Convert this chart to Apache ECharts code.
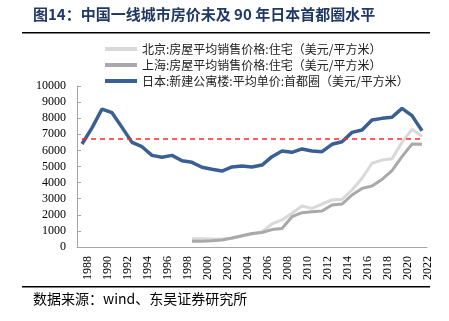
<!DOCTYPE html>
<html>
<head>
<meta charset="utf-8">
<script src="https://cdn.jsdelivr.net/npm/echarts@6/dist/echarts.min.js"></script>
<style>
  html, body { margin: 0; padding: 0; background: #fff; }
  #chart { width: 449px; height: 321px; }
</style>
</head>
<body>
<div id="chart"></div>
<script>
// Years on the category axis
const years = [];
for (let y = 1988; y <= 2022; y++) years.push(String(y));

// 北京 / 上海 住宅均价（美元/平方米），1999 年起
const beijing = [null, null, null, null, null, null, null, null, null, null, null,
  510, 520, 500, 480, 540, 680, 800, 950, 1430, 1680, 2100, 2550, 2400, 2670,
  2920, 2960, 3540, 4270, 5200, 5400, 5480, 6500, 7310, 6870];
const shanghai = [null, null, null, null, null, null, null, null, null, null, null,
  350, 355, 390, 430, 560, 700, 840, 900, 1080, 1150, 1880, 2130, 2190, 2240,
  2610, 2670, 3230, 3640, 3790, 4200, 4740, 5610, 6400, 6380];
// 日本首都圈新建公寓均价（美元/平方米）
const tokyo = [6400, 7400, 8570, 8340, 7430, 6500, 6230, 5690, 5570, 5690,
  5360, 5260, 4950, 4830, 4720, 4970, 5030, 4970, 5090, 5610, 5960, 5880,
  6090, 5960, 5920, 6380, 6540, 7120, 7270, 7890, 7990, 8060, 8610, 8160, 7220];
// 红色虚线参考水平
const refLevel = 6750;

const names = [
  '北京:房屋平均销售价格:住宅（美元/平方米）',
  '上海:房屋平均销售价格:住宅（美元/平方米）',
  '日本:新建公寓楼:平均单价:首都圈（美元/平方米）'
];
const colors = ['#d9d9d9', '#a9a9a9', '#3a5f92'];

const cjk = '"Noto Sans CJK SC", sans-serif';
const serif = '"Liberation Serif", "DejaVu Serif", serif';

const chart = echarts.init(document.getElementById('chart'), null, { renderer: 'canvas' });
chart.setOption({
  animation: false,
  backgroundColor: '#fff',
  grid: { left: 77, right: 22, top: 86, bottom: 74 },
  legend: {
    orient: 'vertical',
    left: 100,
    top: 38,
    icon: 'rect',
    itemWidth: 32,
    itemHeight: 4,
    itemGap: 4,
    textStyle: { fontFamily: cjk, fontSize: 12, color: '#222', lineHeight: 12, height: 12 },
    data: names
  },
  xAxis: {
    type: 'category',
    data: years,
    boundaryGap: true,
    axisLine: { lineStyle: { color: '#a6a6a6', width: 1 } },
    axisTick: { inside: true, length: 4, interval: 1, lineStyle: { color: '#a6a6a6' } },
    axisLabel: {
      interval: 1,
      rotate: 90,
      margin: 9,
      verticalAlign: 'top',
      fontFamily: serif,
      fontSize: 12,
      color: '#000'
    }
  },
  yAxis: {
    type: 'value',
    min: 0,
    max: 10000,
    interval: 1000,
    splitLine: { show: false },
    axisLine: { show: true, lineStyle: { color: '#a6a6a6', width: 1 } },
    axisTick: { show: true, inside: true, length: 4, lineStyle: { color: '#a6a6a6' } },
    axisLabel: {
      margin: 11, fontFamily: serif, fontSize: 12, color: '#000',
      formatter: (v) => String(v)
    }
  },
  series: [
    {
      name: names[0], type: 'line', data: beijing, symbol: 'none',
      lineStyle: { color: colors[0], width: 3 }, itemStyle: { color: colors[0] }, z: 2
    },
    {
      name: names[1], type: 'line', data: shanghai, symbol: 'none',
      lineStyle: { color: colors[1], width: 3 }, itemStyle: { color: colors[1] }, z: 3
    },
    {
      name: names[2], type: 'line', data: tokyo, symbol: 'none',
      lineStyle: { color: colors[2], width: 3.5 }, itemStyle: { color: colors[2] }, z: 4,
      markLine: {
        silent: true,
        symbol: 'none',
        label: { show: false },
        lineStyle: { color: '#ff2a2a', type: [5, 4], width: 1.5 },
        data: [[{ coord: [years[0], refLevel] }, { coord: [years[years.length - 1], refLevel] }]]
      }
    }
  ],
  graphic: [
    {
      type: 'text', left: 33, top: 7,
      style: {
        text: '图14：中国一线城市房价未及 90 年日本首都圈水平',
        font: 'bold 15px ' + cjk,
        fill: '#1f3864'
      }
    },
    {
      type: 'rect', shape: { x: 22, y: 32, width: 408, height: 1.5 },
      style: { fill: '#000' }
    },
    {
      type: 'rect', shape: { x: 22, y: 286, width: 408, height: 1.5 },
      style: { fill: '#000' }
    },
    {
      type: 'text', left: 33, top: 292,
      style: {
        text: '数据来源：wind、东吴证券研究所',
        font: '14px ' + cjk,
        fill: '#000'
      }
    }
  ]
});
</script>
</body>
</html>
